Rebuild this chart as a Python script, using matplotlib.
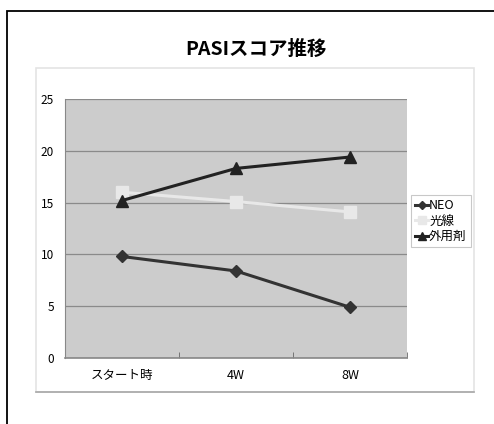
import matplotlib
matplotlib.use("Agg")
import matplotlib.pyplot as plt
from matplotlib.patches import Rectangle

plt.rcParams["font.family"] = ["Noto Sans CJK JP", "DejaVu Sans"]

W, H = 494, 424

categories = ["スタート時", "4W", "8W"]
neo = [9.8, 8.4, 4.9]
kosen = [16.0, 15.1, 14.1]
gaiyozai = [15.2, 18.3, 19.4]
series_names = ["NEO", "光線", "外用剤"]
yticks = [0, 5, 10, 15, 20, 25]

fig = plt.figure(figsize=(W / 100, H / 100), dpi=100)


def fx(px):
    return px / W


def fy(py):
    return 1 - py / H


# outer frame
fig.patches.append(Rectangle((fx(6.5), fy(440)), fx(510) - fx(6.5), fy(10.5) - fy(440),
                             transform=fig.transFigure, fill=False, edgecolor="black",
                             linewidth=1.3))
# chart area frame
fig.patches.append(Rectangle((fx(36), fy(392)), fx(474) - fx(36), fy(68) - fy(392),
                             transform=fig.transFigure, fill=False, edgecolor="#e4e4e4",
                             linewidth=1.2))
fig.add_artist(plt.Line2D([fx(36), fx(474)], [fy(392), fy(392)], transform=fig.transFigure,
                          color="#a8a8a8", linewidth=1.2))

ax = fig.add_axes([fx(65), fy(358), fx(407) - fx(65), fy(99) - fy(358)])
ax.set_facecolor("#cccccc")
x = range(len(categories))

ax.plot(x, neo, color="#333333", linewidth=2.2, marker="D", markersize=6.5, label=series_names[0])
ax.plot(x, kosen, color="#e8e8e8", linewidth=2.2, marker="s", markersize=8, label=series_names[1])
ax.plot(x, gaiyozai, color="#222222", linewidth=2.2, marker="^", markersize=8.5, label=series_names[2])

ax.set_xlim(-0.5, 2.5)
ax.set_ylim(0, 25)
ax.set_yticks(yticks)
ax.set_yticklabels([str(v) for v in yticks], fontsize=8.5, color="black")
ax.set_xticks(x)
ax.set_xticklabels(categories, fontsize=9)
ax.set_xticks([-0.5, 0.5, 1.5, 2.5], minor=True)
ax.tick_params(axis="x", which="major", length=0, pad=8)
ax.tick_params(axis="x", which="minor", length=4, color="#666666", direction="in")
ax.tick_params(axis="y", length=0, pad=8)
ax.grid(axis="y", color="#8a8a8a", linewidth=0.9)
ax.set_axisbelow(True)
for side in ["top", "right"]:
    ax.spines[side].set_visible(False)
ax.spines["left"].set_color("#888888")
ax.spines["bottom"].set_color("#888888")
ax.spines["bottom"].set_linewidth(1.2)

leg = fig.legend(loc="center left", bbox_to_anchor=(fx(411), fy(221)), fontsize=9,
                 frameon=True, fancybox=False, edgecolor="#bbbbbb", handlelength=1.0,
                 handletextpad=0.1, borderpad=0.35, labelspacing=0.2, borderaxespad=0,
                 markerscale=0.7)
leg.get_frame().set_linewidth(0.8)

fig.text(fx(256), fy(49), "PASIスコア推移", ha="center", va="center", fontsize=14,
         fontweight="bold")

fig.savefig("out.png", dpi=100)
